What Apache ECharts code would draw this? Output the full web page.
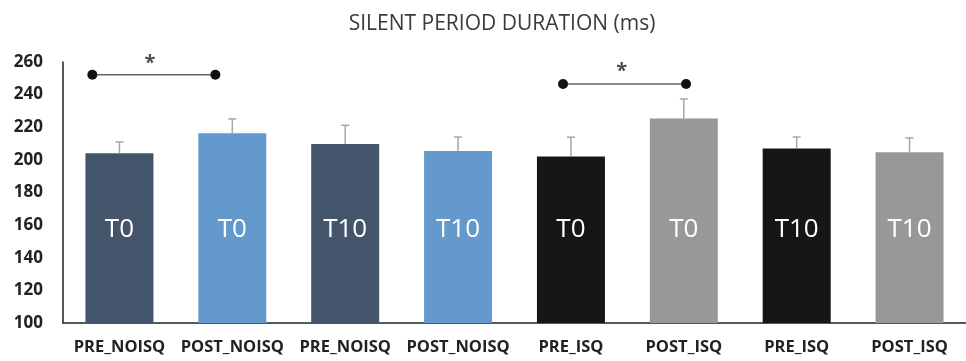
<!DOCTYPE html>
<html><head><meta charset="utf-8">
<script src="https://cdn.jsdelivr.net/npm/echarts@6/dist/echarts.min.js"></script>
<style>html,body{margin:0;padding:0;background:#fff}#c{width:966px;height:361px}</style>
</head><body><div id="c"></div>
<script>
var categories = ['PRE_NOISQ','POST_NOISQ','PRE_NOISQ','POST_NOISQ','PRE_ISQ','POST_ISQ','PRE_ISQ','POST_ISQ'];
var barLabels = ['T0','T0','T10','T10','T0','T0','T10','T10'];
var means = [204.0, 216.3, 209.7, 205.5, 202.0, 225.3, 206.9, 204.7];
var errorTops = [211.0, 225.1, 221.2, 214.0, 213.9, 237.3, 214.0, 213.4];
var barColors = ['#44546A','#6399CC','#44546A','#6399CC','#161616','#989898','#161616','#989898'];
var yTicks = [100,120,140,160,180,200,220,240,260];
// significance brackets, x in category units (0..8)
var sig1 = [[0.26, 252.2],[1.35, 252.2]];
var sig2 = [[4.43, 246.5],[5.52, 246.5]];
var stars = [[0.77, 259.5],[4.95, 254.5]];

var chart = echarts.init(document.getElementById('c'));
var FONT = 'Open Sans';
chart.setOption({
  animation: false,
  title: {
    text: 'SILENT PERIOD DURATION (ms)',
    left: 497, top: 9, textAlign: 'center',
    textStyle: {fontFamily: FONT, fontWeight: 'normal', fontSize: 21, color: '#3a3a3a'}
  },
  grid: {left: 63, right: -9, top: 62, bottom: 38},
  xAxis: [{
    type: 'category', data: categories,
    axisLine: {lineStyle: {color: '#222', width: 1.5}},
    axisTick: {show: false},
    axisLabel: {fontFamily: FONT, fontWeight: 'bold', fontSize: 16.5, color: '#222', margin: 16, interval: 0}
  },{
    type: 'value', min: 0, max: 8, show: false
  }],
  yAxis: {
    type: 'value', min: yTicks[0], max: yTicks[yTicks.length-1], interval: 20,
    axisLine: {show: true, lineStyle: {color: '#222', width: 1.5}},
    axisTick: {show: false},
    splitLine: {show: false},
    axisLabel: {fontFamily: FONT, fontWeight: 'bold', fontSize: 17, color: '#222', margin: 20}
  },
  series: [{
    type: 'bar', barWidth: 68,
    data: means.map(function(v,i){return {value: v, itemStyle: {color: barColors[i]}};}),
    label: {
      show: true, position: 'insideBottom', distance: 79,
      formatter: function(p){return barLabels[p.dataIndex];},
      fontFamily: FONT, fontSize: 26, color: '#fff', lineHeight: 28
    }
  },{
    type: 'custom', xAxisIndex: 0,
    data: means.map(function(v,i){return [i, v, errorTops[i]];}),
    renderItem: function(params, api){
      var p0 = api.coord([api.value(0), api.value(1)]);
      var p1 = api.coord([api.value(0), api.value(2)]);
      var st = {stroke: '#a6a6a6', lineWidth: 1.5};
      return {type: 'group', children: [
        {type: 'line', shape: {x1: p0[0], y1: p0[1], x2: p1[0], y2: p1[1]}, style: st},
        {type: 'line', shape: {x1: p1[0]-4, y1: p1[1], x2: p1[0]+4, y2: p1[1]}, style: st}
      ]};
    },
    z: 3
  },{
    type: 'line', xAxisIndex: 1, data: sig1,
    symbol: 'circle', symbolSize: 10,
    itemStyle: {color: '#111'}, lineStyle: {color: '#666', width: 1.5}
  },{
    type: 'line', xAxisIndex: 1, data: sig2,
    symbol: 'circle', symbolSize: 10,
    itemStyle: {color: '#111'}, lineStyle: {color: '#666', width: 1.5}
  },{
    type: 'scatter', xAxisIndex: 1, data: stars, symbolSize: 0,
    label: {show: true, position: 'inside', formatter: '*', fontFamily: FONT, fontWeight: 'bold', fontSize: 20, color: '#222'}
  }]
});
</script></body></html>
